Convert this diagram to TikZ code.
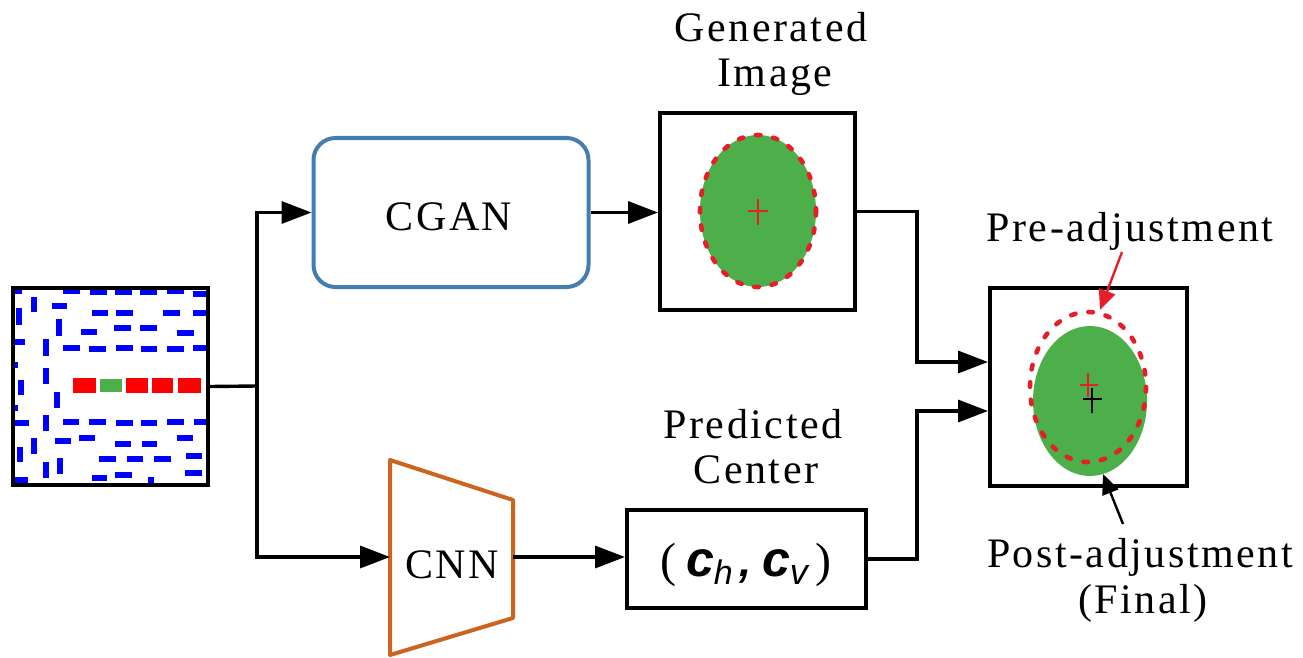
\documentclass[tikz,border=0pt]{standalone}
\usepackage{fontspec}
\setmainfont{Liberation Serif}
\newfontfamily\lblfont[LetterSpace=6]{Liberation Serif}
\newfontfamily\arialf{Liberation Sans}
\usetikzlibrary{arrows.meta}

\definecolor{cganblue}{RGB}{70,125,175}
\definecolor{cnnorange}{RGB}{205,100,30}
\definecolor{blobgreen}{RGB}{76,175,74}
\definecolor{dashred}{RGB}{230,30,40}
\definecolor{patblue}{RGB}{0,0,255}
\definecolor{patred}{RGB}{255,0,0}
\definecolor{patgreen}{RGB}{76,175,74}

\tikzset{
  frame/.style={draw=black, line width=4pt, inner sep=0pt},
  flow/.style={draw=black, line width=3.4pt, -{Triangle[length=30pt,width=22pt]}},
  wire/.style={draw=black, line width=3.4pt},
  lbl/.style={font=\lblfont\fontsize{42}{48}\selectfont, inner sep=0pt, anchor=base},
  blob/.style={fill=blobgreen},
  redring/.style={draw=dashred, line width=4.6pt, dash pattern=on 4.5pt off 13pt, line cap=round},
  callout/.style={line width=2.4pt, -{Triangle[length=20pt,width=17pt]}},
}

\begin{document}
\begin{tikzpicture}[x=1pt, y=-1pt]
\useasboundingbox (0,0) rectangle (1303,658);

% ---------- input map ----------
\node[frame, minimum width=195pt, minimum height=197pt] (inp) at (110.5,386.5) {};
\begin{scope}
  \clip (13,288) rectangle (208,485);
  \begin{scope}[shift={(0,275)}, scale=1/3]
    \foreach \a/\b/\c in {45/65/48, 190/240/48, 270/320/50, 345/395/50, 420/472/50, 502/552/48, 580/630/58,
        155/200/93, 275/325/115, 348/398/115, 490/540/115, 578/630/115,
        342/392/158, 420/470/158, 242/290/172, 532/582/175, 35/75/200,
        190/240/220, 268/318/222, 348/398/220, 422/472/222, 502/552/222, 580/630/220,
        35/88/445, 190/238/442, 268/318/440, 348/398/443, 422/472/443, 502/552/440, 582/630/442,
        165/213/497, 238/286/490, 345/392/508, 425/472/508, 530/580/490,
        298/348/552, 380/428/552, 463/512/552, 558/605/542,
        275/322/608, 345/395/600, 555/605/593, 35/85/615,
        35/55/270, 35/55/398}
      \fill[patblue] (\a,\c-9) rectangle (\b,\c+9);
    \foreach \a/\b/\c in {102/65/112, 58/100/150, 178/133/183, 138/193/243, 138/280/328,
        63/315/360, 172/352/400, 138/420/468, 102/490/538, 60/515/560, 138/562/610,
        180/550/598, 452/605/635}
      \fill[patblue] (\a-9,\b) rectangle (\a+9,\c);
    \foreach \a/\b in {220/288, 378/443, 457/520, 535/603}
      \fill[patred] (\a,310) rectangle (\b,355);
    \fill[patgreen] (300,313) rectangle (365,352);
  \end{scope}
\end{scope}
\node[frame, minimum width=195pt, minimum height=197pt] at (110.5,386.5) {};

% ---------- networks ----------
\node[draw=cganblue, line width=4pt, rounded corners=22pt, minimum width=275pt, minimum height=149pt]
  (cgan) at (451,212.5) {};
\node[lbl] (cgantxt) at (449,230) {CGAN};

\draw[cnnorange, line width=4pt, line join=round] (390,460) -- (513,500) -- (513,618) -- (390,655) -- cycle;
\coordinate (cnnL) at (390,557);
\coordinate (cnnR) at (513,557);
\node[lbl] (cnntxt) at (452,578) {CNN};

% ---------- generated image ----------
\node[frame, minimum width=195pt, minimum height=197pt] (gen) at (757.5,211.5) {};
\fill[blob] (758,211) ellipse [x radius=58, y radius=76];
\draw[redring] (758,211) ellipse [x radius=58, y radius=76];
\draw[dashred, line width=1.8pt] (748,211) -- (768,211) (758,199) -- (758,225);
\node[lbl] (gentxt1) at (771,42) {Generated};
\node[lbl] (gentxt2) at (775,87) {Image};

% ---------- predicted center ----------
\node[frame, minimum width=239pt, minimum height=98pt] (cen) at (746.5,559) {};
\node[inner sep=0pt, anchor=base] (cval) at (746,576) {%
  \fontsize{48}{48}\selectfont(\hspace{10pt}%
  {\arialf\bfseries\itshape\fontsize{50}{50}\selectfont c}\raisebox{-8pt}{\arialf\itshape\fontsize{34}{34}\selectfont h}%
  \hspace{7pt}{\arialf\bfseries\itshape\fontsize{44}{44}\selectfont,}\hspace{10pt}%
  {\arialf\bfseries\itshape\fontsize{50}{50}\selectfont c}\raisebox{-8pt}{\arialf\itshape\fontsize{36}{36}\selectfont v}%
  \hspace{8pt})};
\node[lbl] (centxt1) at (753,438) {Predicted};
\node[lbl] (centxt2) at (756,483) {Center};

% ---------- adjusted result ----------
\node[frame, minimum width=197pt, minimum height=198pt] (fin) at (1088.5,387) {};
\fill[blob] (1090,401) ellipse [x radius=57, y radius=75];
\draw[redring] (1088,387) ellipse [x radius=58, y radius=75];
\draw[dashred, line width=1.8pt] (1080,385) -- (1098,385) (1088,373) -- (1088,397);
\draw[black, line width=1.8pt] (1083,399) -- (1102,399) (1092,388) -- (1092,413);
\node[lbl] (pretxt) at (1130,241) {Pre-adjustment};
\node[lbl] (posttxt) at (1140,567) {Post-adjustment};
\node[lbl] (finaltxt) at (1143,613) {(Final)};
\coordinate (preS) at (1122,252);
\coordinate (preE) at (1100,310);
\coordinate (postS) at (1123,524);
\coordinate (postE) at (1103,474);
\draw[callout, dashred, fill=dashred] (preS) -- (preE);
\draw[callout, black, fill=black] (postS) -- (postE);

% ---------- connectors ----------
\coordinate (split) at (257,386);
\coordinate (mergeA) at (917,362);
\coordinate (mergeB) at (917,411);
\draw[wire] (inp.east) -- (split);
\draw[flow] (split) |- (cgan.west);
\draw[flow] (split) |- (cnnL);
\draw[flow] (cgan.east) -- (gen.west |- cgan.east);
\draw[flow] (cnnR) -- (cen.west |- cnnR);
\draw[flow] (gen.east) -| (mergeA) -- (fin.west |- mergeA);
\draw[flow] (cen.east) -| (mergeB) -- (fin.west |- mergeB);
\end{tikzpicture}
\end{document}
